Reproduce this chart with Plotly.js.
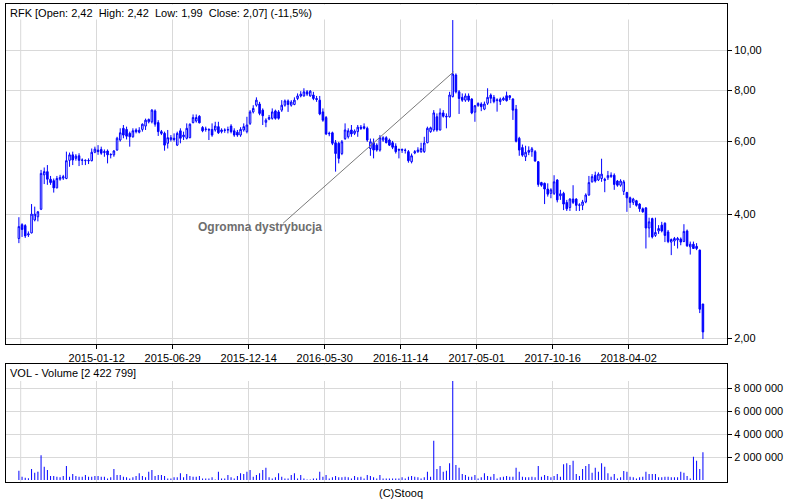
<!DOCTYPE html>
<html><head><meta charset="utf-8">
<script src="https://cdn.plot.ly/plotly-3.0.1.min.js"></script>
<style>html,body{margin:0;padding:0;background:#fff;}#chart{width:800px;height:500px;}</style>
</head><body><div id="chart"></div>
<script>
// Weekly candles, first week 2014-07-24
const firstWeek = '2014-07-24';
const openP = [
3.49,3.77,3.75,3.56,3.60,3.87,3.94,4.11,4.98,5.07,
4.86,4.82,4.63,4.86,4.89,4.88,5.40,5.57,5.46,5.54,
5.40,5.39,5.40,5.39,5.65,5.72,5.74,5.64,5.69,5.57,
5.57,5.72,6.05,6.46,6.42,6.28,6.16,6.40,6.32,6.42,
6.54,6.70,6.70,7.12,6.67,6.34,6.28,5.94,6.07,6.11,
5.88,6.37,6.16,6.11,6.13,6.67,6.73,6.91,6.49,6.42,
6.42,6.42,6.40,6.52,6.34,6.40,6.40,6.54,6.37,6.32,
6.22,6.40,
6.34,6.64,7.08,7.35,7.40,7.15,6.68,6.80,6.83,7.12,
7.08,7.15,7.35,7.53,7.35,7.38,7.63,7.74,7.74,7.92,
7.74,7.78,7.63,7.56,7.08,6.86,6.26,6.30,5.96,5.94,
5.61,6.10,6.16,6.40,6.28,6.34,6.50,6.52,6.46,5.77,
5.96,5.88,5.72,6.05,6.13,6.05,5.96,5.85,5.74,5.74,
5.72,5.67,5.36,5.63,5.67,5.67,5.67,5.96,6.34,6.40,
6.89,6.40,7.04,6.91,6.89,7.71,8.70,7.92,7.68,7.56,7.74,
7.61,7.07,7.33,7.40,7.19,7.43,7.78,7.68,7.54,7.50,
7.57,7.75,7.67,7.61,7.19,6.11,5.80,5.51,5.65,5.67,
5.67,5.36,4.77,4.75,4.60,4.49,4.49,4.84,4.43,4.49,
4.27,4.15,4.35,4.35,4.20,4.20,4.28,4.45,4.79,4.97,
4.84,4.88,4.86,4.90,4.93,4.97,4.81,4.70,4.54,4.51,
4.38,4.27,4.31,4.23,4.12,4.14,3.70,3.90,3.55,3.64,
3.76,3.80,3.62,3.42,3.44,3.46,3.48,3.43,3.64,3.33,
3.38,3.34,3.27,2.42];
const highP = [
3.93,3.80,3.78,3.63,4.23,4.17,4.07,5.12,5.19,5.26,
4.95,4.88,4.95,4.98,4.98,5.67,5.64,5.67,5.59,5.62,
5.46,5.43,5.46,5.77,5.83,5.88,5.83,5.74,5.74,5.62,
5.72,6.16,6.46,6.58,6.52,6.34,6.46,6.46,6.50,6.64,
6.82,6.82,7.19,7.18,6.76,6.40,6.34,6.40,6.22,6.28,
6.34,6.46,6.34,6.64,6.64,6.98,6.98,6.95,6.54,6.52,
6.46,6.64,6.70,6.70,6.46,6.46,6.52,6.61,6.46,6.40,
6.50,6.64,
6.89,7.15,7.35,7.68,7.49,7.22,6.83,6.96,7.22,7.17,
7.15,7.56,7.59,7.59,7.56,7.68,7.85,7.95,8.08,8.00,
8.00,7.92,7.74,7.74,7.22,6.92,6.34,6.34,6.05,5.99,
6.05,6.64,6.46,6.58,6.42,6.58,6.58,6.64,6.52,6.10,
6.10,5.94,6.22,6.18,6.18,6.10,6.02,5.94,5.77,5.77,
5.77,5.72,5.61,5.72,5.81,5.96,6.16,6.52,6.52,7.15,
7.02,7.22,7.15,7.02,7.92,11.83,8.78,8.00,7.85,7.85,7.85,
7.64,7.36,7.47,7.47,7.50,8.08,7.85,7.78,7.64,7.67,
7.71,7.93,7.78,7.64,7.36,6.16,5.90,5.86,5.84,5.82,
5.72,5.38,4.79,4.77,4.75,4.62,4.97,4.86,4.58,4.53,
4.33,4.37,4.70,4.37,4.25,4.33,4.49,4.95,5.00,5.07,
5.05,5.45,4.90,5.09,5.05,5.02,4.84,4.86,4.84,4.53,
4.41,4.38,4.33,4.25,4.15,4.16,3.92,3.92,3.92,3.76,
3.83,3.82,3.66,3.49,3.52,3.52,3.51,3.78,3.67,3.43,
3.43,3.40,3.28,2.42];
const lowP = [
3.40,3.52,3.50,3.52,3.59,3.84,3.84,4.09,4.73,4.71,
4.71,4.51,4.62,4.82,4.84,4.86,5.21,5.26,5.39,5.23,
5.26,5.26,5.29,5.37,5.62,5.57,5.57,5.51,5.31,5.46,
5.51,5.70,6.00,6.11,6.07,5.83,6.13,6.28,6.28,6.34,
6.40,6.64,6.64,6.52,6.19,6.22,5.70,5.77,6.00,6.00,
5.85,5.94,6.05,6.07,6.11,6.64,6.67,6.64,6.32,6.34,
6.05,6.16,6.34,6.26,6.28,6.30,6.28,6.28,6.16,6.16,
6.16,6.34,
6.28,6.58,7.02,7.29,6.95,6.58,6.50,6.76,6.78,6.78,
6.78,7.08,7.29,7.08,7.29,7.35,7.56,7.68,7.71,7.74,
7.71,7.56,7.49,6.95,6.70,6.22,6.18,5.88,5.07,5.31,
5.56,6.05,6.10,6.16,6.22,6.16,6.40,6.42,5.99,5.54,
5.46,5.67,5.67,5.99,5.94,5.85,5.75,5.61,5.46,5.63,
5.61,5.33,5.31,5.59,5.63,5.63,5.63,5.94,6.30,6.34,
6.34,6.38,6.86,6.46,6.86,7.68,7.85,7.00,7.49,7.49,7.49,
6.99,6.70,7.29,7.11,7.15,7.36,7.43,7.43,7.09,7.36,
7.53,7.50,7.57,6.77,5.97,5.54,5.51,5.38,5.56,5.51,
5.36,4.66,4.66,4.23,4.41,4.37,4.45,4.27,4.33,4.09,
4.07,4.07,4.23,4.07,4.07,4.09,4.25,4.43,4.77,4.77,
4.81,4.79,4.52,4.84,4.90,4.58,4.66,4.66,4.45,4.05,
4.14,4.21,4.17,4.05,4.03,3.30,3.51,3.49,3.52,3.58,
3.61,3.42,3.40,3.18,3.35,3.30,3.36,3.42,3.33,3.19,
3.29,3.27,2.30,1.99];
const closeP = [
3.73,3.67,3.54,3.58,4.00,4.00,4.05,5.02,5.07,4.86,
4.77,4.63,4.88,4.91,4.93,5.39,5.57,5.41,5.53,5.40,
5.41,5.40,5.39,5.65,5.75,5.67,5.62,5.67,5.57,5.58,
5.69,6.11,6.30,6.22,6.18,6.16,6.37,6.34,6.39,6.61,
6.76,6.79,7.15,6.61,6.34,6.28,5.88,6.13,6.13,6.07,
6.28,6.11,6.22,6.46,6.61,6.86,6.86,6.66,6.37,6.43,
6.40,6.22,6.54,6.30,6.40,6.39,6.41,6.34,6.22,6.22,
6.42,6.52,
6.58,7.08,7.22,7.56,7.02,6.93,6.76,6.86,7.08,6.83,
6.83,7.35,7.53,7.38,7.48,7.56,7.74,7.82,7.92,7.82,
7.95,7.63,7.59,7.00,6.76,6.26,6.28,5.94,5.61,5.46,
5.99,6.40,6.37,6.26,6.36,6.50,6.46,6.46,6.05,5.99,
5.72,5.72,6.13,6.13,5.96,5.88,5.81,5.67,5.72,5.72,
5.71,5.39,5.54,5.67,5.72,5.77,5.95,6.46,6.48,7.04,
6.40,7.04,6.91,6.89,7.78,8.75,7.92,7.63,7.56,7.74,7.56,
7.04,7.33,7.42,7.29,7.40,7.68,7.64,7.50,7.57,7.60,
7.64,7.54,7.75,7.15,6.01,5.72,5.56,5.65,5.71,5.76,
5.38,4.72,4.70,4.60,4.47,4.58,4.79,4.33,4.48,4.23,
4.12,4.35,4.27,4.20,4.21,4.28,4.45,4.77,4.93,4.81,
5.00,5.00,4.83,4.96,4.97,4.72,4.70,4.81,4.79,4.38,
4.27,4.35,4.20,4.12,4.05,3.70,3.83,3.52,3.61,3.69,
3.64,3.55,3.43,3.47,3.49,3.49,3.42,3.63,3.35,3.38,
3.30,3.30,2.35,2.07];
const volume = [
810000,290000,200000,150000,960000,640000,720000,2150000,1160000,870000,
350000,350000,290000,230000,350000,1220000,290000,520000,350000,290000,
290000,430000,290000,290000,350000,350000,290000,290000,140000,230000,
960000,430000,430000,290000,230000,140000,230000,350000,580000,350000,
230000,720000,870000,350000,430000,430000,350000,140000,140000,230000,
230000,580000,230000,520000,350000,290000,290000,350000,140000,140000,
140000,230000,50000,720000,140000,140000,430000,230000,140000,350000,
580000,520000,720000,870000,290000,430000,580000,870000,1070000,230000,
140000,230000,580000,290000,140000,140000,430000,580000,140000,430000,
140000,50000,50000,140000,140000,720000,290000,430000,140000,230000,
350000,230000,230000,290000,230000,140000,350000,230000,290000,140000,
430000,350000,230000,140000,430000,140000,140000,140000,140000,140000,
140000,230000,140000,290000,350000,290000,230000,140000,230000,720000,
290000,3420000,960000,1220000,720000,810000,1450000,8700000,1300000,1070000,
520000,430000,290000,290000,430000,140000,230000,580000,350000,290000,
520000,140000,230000,290000,350000,290000,290000,1070000,720000,290000,
230000,230000,290000,230000,1220000,290000,430000,350000,230000,350000,
520000,290000,1360000,1450000,1300000,1680000,520000,350000,960000,1220000,
1390000,640000,1070000,720000,1450000,1160000,580000,290000,520000,140000,
230000,780000,720000,290000,230000,140000,230000,290000,720000,520000,
520000,520000,230000,230000,290000,290000,230000,230000,230000,720000,
640000,350000,140000,2030000,1680000,960000,2422799];

const xTickDates = ['2015-01-12','2015-06-29','2015-12-14','2016-05-30','2016-11-14','2017-05-01','2017-10-16','2018-04-02'];
const extraGridDate = '2014-07-28';
const priceTicks = [2,4,6,8,10];
const priceTickText = ['2,00','4,00','6,00','8,00','10,00'];
const volTicks = [2000000,4000000,6000000,8000000];
const volTickText = ['2 000 000','4 000 000','6 000 000','8 000 000'];
const noteLineDates = ['2016-02-28','2017-03-11'];
const noteLinePrices = [3.80, 8.86];
const headerText = 'RFK [Open: 2,42\u00a0\u00a0High: 2,42\u00a0\u00a0Low: 1,99\u00a0\u00a0Close: 2,07] (-11,5%)';
const volHeader = 'VOL - Volume [2 422 799]';
const noteText = 'Ogromna dystrybucja';

const n = closeP.length;
if (openP.length!==n || highP.length!==n || lowP.length!==n || volume.length!==n) {
  throw new Error('length mismatch '+[openP.length,highP.length,lowP.length,closeP.length,volume.length].join(','));
}
const dates = [];
const t0 = Date.parse(firstWeek+'T00:00:00Z');
for (let i=0;i<n;i++) dates.push(new Date(t0 + i*7*86400000).toISOString().slice(0,10));

const BLUE = '#0000ff';
const GRID = '#d9d9d9';
const FONT = 'Liberation Sans, Arial, sans-serif';

const traces = [
  {type:'scatter', mode:'lines', x:noteLineDates, y:noteLinePrices, xaxis:'x', yaxis:'y',
   line:{color:'#7a7a7a', width:1}, hoverinfo:'skip'},
  {type:'candlestick', x:dates, open:openP, high:highP, low:lowP, close:closeP, xaxis:'x', yaxis:'y',
   increasing:{line:{color:BLUE, width:1}, fillcolor:'#ffffff'},
   decreasing:{line:{color:BLUE, width:1}, fillcolor:BLUE}, whiskerwidth:0, hoverinfo:'skip'},
  {type:'bar', x:dates, y:volume, xaxis:'x2', yaxis:'y2', width:2.2*86400000,
   marker:{color:BLUE, line:{width:0}}, hoverinfo:'skip'}
];

const mainBottom = (482-344)/478;
const volTop = (482-364)/478;
const xr = ['2014-06-25 12:00','2018-11-05 05:00'];

const layout = {
  width:800, height:500, margin:{l:6, r:73, t:4, b:18, pad:0},
  paper_bgcolor:'#ffffff', plot_bgcolor:'rgba(0,0,0,0)', showlegend:false,
  font:{family:FONT, size:11, color:'#000'},
  xaxis:{type:'date', range:xr, anchor:'y', domain:[0,1], rangeslider:{visible:false},
    tickmode:'array', tickvals:xTickDates, ticktext:xTickDates, ticks:'outside', ticklen:4, tickcolor:'#000',
    showgrid:true, gridcolor:GRID, gridwidth:1, showline:true, mirror:true, linecolor:'#000', linewidth:1,
    zeroline:false, tickfont:{family:FONT, size:11, color:'#000'}, fixedrange:true},
  xaxis2:{type:'date', range:xr, anchor:'y2', domain:[0,1], tickmode:'array', tickvals:xTickDates,
    showticklabels:false, ticks:'', showgrid:true, gridcolor:GRID, gridwidth:1, showline:true, mirror:true,
    linecolor:'#000', linewidth:1, zeroline:false, fixedrange:true},
  yaxis:{type:'log', domain:[mainBottom,1], range:[Math.log10(1.935), Math.log10(12.94)], anchor:'x', side:'right',
    tickmode:'array', tickvals:priceTicks, ticktext:priceTickText, ticks:'outside', ticklen:4, tickcolor:'#000',
    showgrid:true, gridcolor:GRID, gridwidth:1, showline:true, mirror:true, linecolor:'#000', linewidth:1,
    zeroline:false, tickfont:{family:FONT, size:11, color:'#000'}, fixedrange:true},
  yaxis2:{domain:[0,volTop], range:[-174000,10087000], anchor:'x2', side:'right',
    tickmode:'array', tickvals:volTicks, ticktext:volTickText, ticks:'outside', ticklen:4, tickcolor:'#000',
    showgrid:true, gridcolor:GRID, gridwidth:1, showline:true, mirror:true, linecolor:'#000', linewidth:1,
    zeroline:false, tickfont:{family:FONT, size:11, color:'#000'}, fixedrange:true},
  shapes:[
    {type:'line', xref:'x', yref:'y domain', x0:extraGridDate, x1:extraGridDate, y0:0, y1:1, layer:'below', line:{color:GRID, width:1}},
    {type:'line', xref:'x2', yref:'y2 domain', x0:extraGridDate, x1:extraGridDate, y0:0, y1:1, layer:'below', line:{color:GRID, width:1}},
    {type:'rect', xref:'paper', yref:'paper', x0:1/721, x1:720/721, y0:(482-19.5)/478, y1:(482-4.6)/478, layer:'above', fillcolor:'#ffffff', line:{width:0}},
    {type:'rect', xref:'paper', yref:'paper', x0:1/721, x1:720/721, y0:(482-381)/478, y1:(482-364.6)/478, layer:'above', fillcolor:'#ffffff', line:{width:0}}
  ],
  annotations:[
    {xref:'paper', yref:'paper', x:2/721, y:(482-12.5)/478, xanchor:'left', yanchor:'middle', showarrow:false,
     text:headerText, font:{family:FONT, size:11, color:'#000'}},
    {xref:'paper', yref:'paper', x:2/721, y:(482-373)/478, xanchor:'left', yanchor:'middle', showarrow:false,
     text:volHeader, font:{family:FONT, size:11, color:'#000'}},
    {xref:'paper', yref:'paper', x:(196-6)/721, y:(482-226.5)/478, xanchor:'left', yanchor:'middle', showarrow:false,
     text:'<b>'+noteText+'</b>', font:{family:FONT, size:12, color:'#6e6e6e'}},
    {xref:'paper', yref:'paper', x:(401-6)/721, y:(482-493)/478, xanchor:'center', yanchor:'middle', showarrow:false,
     text:'(C)Stooq', font:{family:FONT, size:11, color:'#000'}}
  ]
};

Plotly.newPlot('chart', traces, layout, {staticPlot:true, displayModeBar:false});
</script>
</body></html>
